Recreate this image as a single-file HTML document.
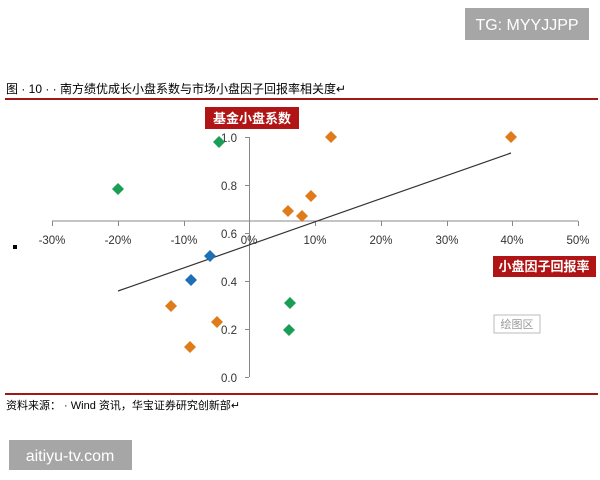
<!DOCTYPE html>
<html><head><meta charset="utf-8"><style>
html,body{margin:0;padding:0;background:#fff;width:600px;height:480px;overflow:hidden}
text{font-family:"Liberation Sans","Noto Sans CJK SC",sans-serif}
</style></head><body>
<svg width="600" height="480" viewBox="0 0 600 480" xmlns="http://www.w3.org/2000/svg">
<rect x="465" y="8" width="124" height="32" fill="#a6a6a6"/>
<text x="527" y="30" font-size="16" fill="#fff" text-anchor="middle">TG: MYYJJPP</text>
<text x="6" y="93" font-size="12" fill="#000">图 · 10 · · 南方绩优成长小盘系数与市场小盘因子回报率相关度↵</text>
<line x1="5" y1="99" x2="598" y2="99" stroke="#a01818" stroke-width="2"/>
<line x1="52" y1="221" x2="578" y2="221" stroke="#888" stroke-width="1"/>
<g stroke="#888">
<line x1="52.5" y1="221" x2="52.5" y2="226"/><line x1="118.5" y1="221" x2="118.5" y2="226"/><line x1="184.5" y1="221" x2="184.5" y2="226"/><line x1="249.5" y1="221" x2="249.5" y2="226"/><line x1="315.5" y1="221" x2="315.5" y2="226"/><line x1="381.5" y1="221" x2="381.5" y2="226"/><line x1="447.5" y1="221" x2="447.5" y2="226"/><line x1="512.5" y1="221" x2="512.5" y2="226"/><line x1="578.5" y1="221" x2="578.5" y2="226"/>
<line x1="249.5" y1="137" x2="249.5" y2="377"/>
<line x1="245" y1="137.5" x2="249" y2="137.5"/><line x1="245" y1="185.5" x2="249" y2="185.5"/><line x1="245" y1="233.5" x2="249" y2="233.5"/><line x1="245" y1="281.5" x2="249" y2="281.5"/><line x1="245" y1="329.5" x2="249" y2="329.5"/><line x1="245" y1="377.5" x2="249" y2="377.5"/>
</g>
<g font-size="11.5" fill="#333" text-anchor="middle">
<text x="52" y="244">-30%</text><text x="118" y="244">-20%</text><text x="184" y="244">-10%</text><text x="249" y="244">0%</text><text x="315" y="244">10%</text><text x="381" y="244">20%</text><text x="447" y="244">30%</text><text x="512" y="244">40%</text><text x="578" y="244">50%</text>
</g>
<g font-size="11.5" fill="#333" text-anchor="end">
<text x="237" y="142">1.0</text><text x="237" y="190">0.8</text><text x="237" y="238">0.6</text><text x="237" y="286">0.4</text><text x="237" y="334">0.2</text><text x="237" y="382">0.0</text>
</g>
<rect x="13" y="245" width="4" height="4" fill="#000"/>
<line x1="118" y1="291" x2="511" y2="153" stroke="#333" stroke-width="1.2"/>
<g>
<path d="M219 136l6 6-6 6-6-6z" fill="#1a9e55"/>
<path d="M118 183l6 6-6 6-6-6z" fill="#1a9e55"/>
<path d="M290 297l6 6-6 6-6-6z" fill="#1a9e55"/>
<path d="M289 324l6 6-6 6-6-6z" fill="#1a9e55"/>
<path d="M210 250l6 6-6 6-6-6z" fill="#1f6fb5"/>
<path d="M191 274l6 6-6 6-6-6z" fill="#1f6fb5"/>
<g fill="#e07b1c">
<path d="M331 131l6 6-6 6-6-6z"/><path d="M511 131l6 6-6 6-6-6z"/><path d="M288 205l6 6-6 6-6-6z"/><path d="M311 190l6 6-6 6-6-6z"/><path d="M302 210l6 6-6 6-6-6z"/><path d="M171 300l6 6-6 6-6-6z"/><path d="M217 316l6 6-6 6-6-6z"/><path d="M190 341l6 6-6 6-6-6z"/>
</g>
</g>
<rect x="205" y="107" width="94" height="22" fill="#b11414"/>
<text x="252" y="123" font-size="13" font-weight="bold" fill="#fff" text-anchor="middle">基金小盘系数</text>
<rect x="493" y="256" width="103" height="21" fill="#b11414"/>
<text x="544" y="271" font-size="13" font-weight="bold" fill="#fff" text-anchor="middle">小盘因子回报率</text>
<rect x="494" y="315" width="46" height="18" fill="#fff" stroke="#bbb"/>
<text x="517" y="328" font-size="11" fill="#999" text-anchor="middle">绘图区</text>
<line x1="5" y1="394" x2="598" y2="394" stroke="#a01818" stroke-width="2"/>
<text x="6" y="409" font-size="11" fill="#000">资料来源： · Wind 资讯，华宝证券研究创新部↵</text>
<rect x="9" y="440" width="123" height="30" fill="#a6a6a6"/>
<text x="70" y="461" font-size="16" fill="#fff" text-anchor="middle">aitiyu-tv.com</text>
</svg>
</body></html>
